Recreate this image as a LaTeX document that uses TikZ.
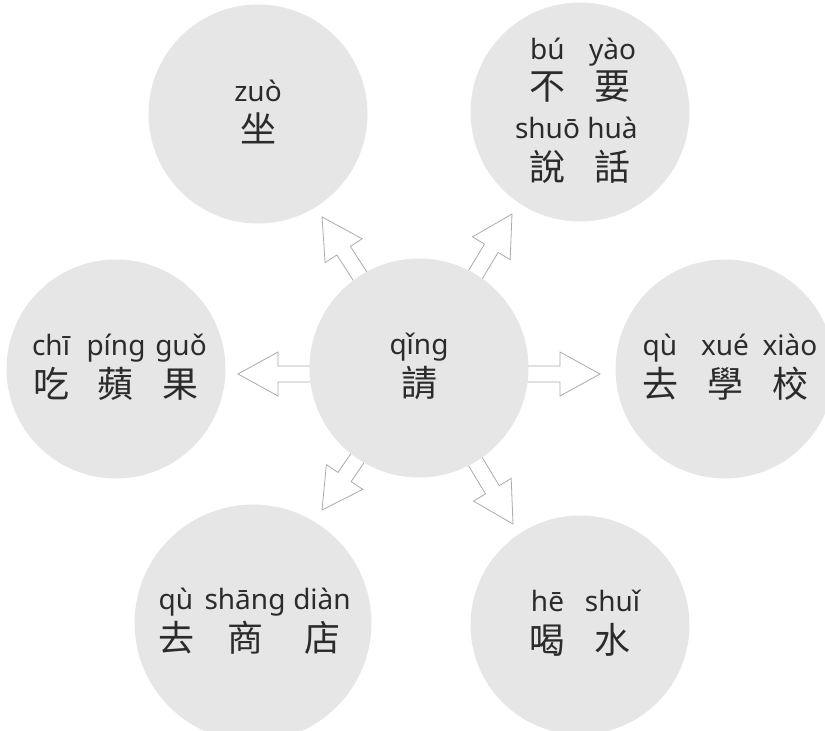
\documentclass[tikz,border=0pt]{standalone}
\usepackage{fontspec}
\usepackage{array}
\newfontfamily\pyfont{Noto Sans}
\newfontfamily\hzfont{Noto Sans CJK TC}
\usetikzlibrary{calc}
\usetikzlibrary{backgrounds}
\definecolor{bubblegray}{HTML}{E6E6E6}
\definecolor{inkgray}{HTML}{2B2B2B}
\definecolor{arrowgray}{HTML}{ABABAB}
\newcommand{\py}[1]{{\pyfont\fontsize{28}{34}\selectfont #1}}
\newcommand{\hz}[1]{{\hzfont\fontsize{36}{40}\selectfont #1}}
\newcolumntype{S}{w{c}{57pt}}
\renewcommand{\arraystretch}{1.15}
\setlength{\tabcolsep}{4pt}
% hollow block arrow: from, tip, name of head base
\newcommand{\blockarrow}[3]{%
  \coordinate (#3) at ($(#2)!40pt!(#1)$);
  \draw[arrowline] ($(#1)!8pt!90:(#2)$) -- ($(#3)!8pt!90:(#2)$)
    -- ($(#3)!22pt!90:(#2)$) -- (#2) -- ($(#3)!22pt!-90:(#2)$)
    -- ($(#3)!8pt!-90:(#2)$) -- ($(#1)!8pt!-90:(#2)$) -- cycle;}

\begin{document}
\begin{tikzpicture}[x=1pt,y=-1pt,
  bubble/.style={circle,fill=bubblegray,minimum size=219pt,inner sep=0pt,
    text=inkgray,font=\fontsize{28}{34}\selectfont},
  arrowline/.style={draw=arrowgray,fill=white,line width=0.8pt}]
\useasboundingbox (0,0) rectangle (825,731);

\node[bubble] (qing)  at (419,368) {\begin{tabular}{S}\py{qǐng}\\\hz{請}\end{tabular}};
\node[bubble] (zuo)   at (258,114) {\begin{tabular}{S}\py{zuò}\\\hz{坐}\end{tabular}};
\node[bubble] (buyao) at (580,112) {\begin{tabular}{SS}
  \py{bú}&\py{yào}\\\hz{不}&\hz{要}\\\py{shuō}&\py{huà}\\\hz{說}&\hz{話}\end{tabular}};
\node[bubble] (chi)   at (116,369) {\begin{tabular}{SSS}
  \py{chī}&\py{píng}&\py{guǒ}\\\hz{吃}&\hz{蘋}&\hz{果}\end{tabular}};
\node[bubble] (xue)   at (725,369) {\begin{tabular}{SSS}
  \py{qù}&\py{xué}&\py{xiào}\\\hz{去}&\hz{學}&\hz{校}\end{tabular}};
\node[bubble] (shang) at (253,623) {\begin{tabular}{w{c}{61pt}w{c}{61pt}w{c}{77pt}}
  \py{qù}&\py{shāng}&\py{diàn}\\\hz{去}&\hz{商}&\hz{店}\end{tabular}};
\node[bubble] (he)    at (580,625) {\begin{tabular}{SS}
  \py{hē}&\py{shuǐ}\\\hz{喝}&\hz{水}\end{tabular}};

% arrow tips
\coordinate (tzuo)   at (322,217);
\coordinate (tbuyao) at (512,214);
\coordinate (tchi)   at (238,374);
\coordinate (txue)   at (600,374);
\coordinate (tshang) at (322,510);
\coordinate (the)    at (513,524);

% Edges
\begin{scope}[on background layer]
\blockarrow{qing}{tzuo}{hzuo}
\blockarrow{qing}{tbuyao}{hbuyao}
\blockarrow{tchi -| qing}{tchi}{hchi}
\blockarrow{txue -| qing}{txue}{hxue}
\blockarrow{qing}{tshang}{hshang}
\blockarrow{qing}{the}{hhe}
\end{scope}

\end{tikzpicture}
\end{document}
